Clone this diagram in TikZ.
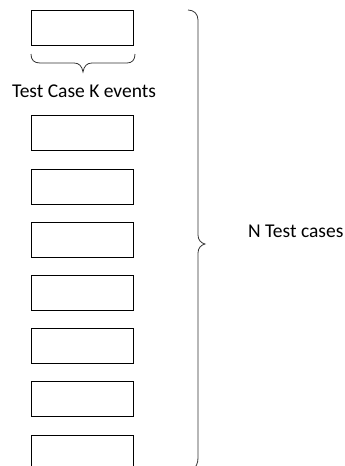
\documentclass[tikz,border=0pt]{standalone}
\usepackage{fontspec}
\setmainfont{Carlito}
\begin{document}
\begin{tikzpicture}[x=1pt,y=-1pt,
  evbox/.style={draw=black,line width=0.9pt,minimum width=102pt,minimum height=35pt,inner sep=0pt,anchor=north west},
  bracepath/.style={draw=black!80,line width=0.8pt},
  lbl/.style={font=\fontsize{19.5}{23}\selectfont,inner sep=0pt}]
\clip (0,0) rectangle (345,466);
\useasboundingbox (0,0) rectangle (345,466);
\node[evbox] (b1) at (31,10) {};
\node[evbox] (b2) at (31,115) {};
\node[evbox] (b3) at (31,169) {};
\node[evbox] (b4) at (31,222) {};
\node[evbox] (b5) at (31,275) {};
\node[evbox] (b6) at (31,328) {};
\node[evbox] (b7) at (31,381) {};
\node[evbox] (b8) at (31,435) {};
\node[lbl,anchor=base] (k) at (84,97) {Test Case K events};
\node[lbl,anchor=base west] (n) at (248,237) {N Test cases};
% small brace
\draw[bracepath] (31,54) .. controls (31,60) and (34,63) .. (40,63) -- (74,63) .. controls (79,63) and (82,66) .. (83,72)
  .. controls (84,66) and (87,63) .. (92,63) -- (127,63) .. controls (132,63) and (135,60) .. (135,54);
% big brace
\draw[bracepath] (188,10) .. controls (194,10) and (198,14) .. (198,20) -- (198,235) .. controls (198,240) and (201,243) .. (205,244)
  .. controls (201,245) and (198,248) .. (198,253) -- (198,458) .. controls (198,463) and (196,467) .. (193,470);
\end{tikzpicture}
\end{document}
